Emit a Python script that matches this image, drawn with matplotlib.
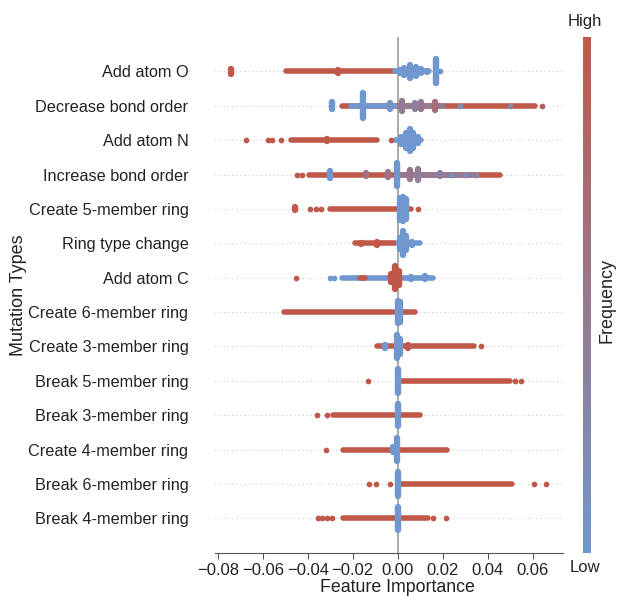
import numpy as np
import matplotlib
matplotlib.use("Agg")
import matplotlib.pyplot as plt
from matplotlib.colors import LinearSegmentedColormap, Normalize
from matplotlib.cm import ScalarMappable

plt.rcParams['font.family'] = ['Liberation Sans', 'DejaVu Sans']

# mutation types, top to bottom
features = [
    "Add atom O", "Decrease bond order", "Add atom N", "Increase bond order",
    "Create 5-member ring", "Ring type change", "Add atom C",
    "Create 6-member ring", "Create 3-member ring", "Break 5-member ring",
    "Break 3-member ring", "Create 4-member ring", "Break 6-member ring",
    "Break 4-member ring",
]

# dense runs of samples: (row, start, end, frequency 0=low 1=high)
bands = [
    (0, -0.0497, -0.001, 1.0), (0, -0.001, 0.0138, 0.0),
    (1, -0.025, 0.061, 1.0), (1, -0.021, -0.001, 0.0), (1, 0.001, 0.020, 0.45),
    (2, -0.0476, -0.0093, 1.0), (2, -0.001, 0.0105, 0.0),
    (3, -0.0395, 0.0453, 1.0), (3, 0.0, 0.035, 0.45),
    (4, -0.030, 0.006, 1.0),
    (5, -0.019, -0.001, 1.0), (5, 0.0, 0.0098, 0.0),
    (6, -0.025, 0.0156, 0.0), (6, -0.017, -0.0147, 1.0),
    (7, -0.0507, -0.001, 1.0), (7, 0.0025, 0.0076, 1.0),
    (8, -0.009, 0.034, 1.0),
    (9, 0.001, 0.050, 1.0),
    (10, -0.029, 0.0098, 1.0),
    (11, -0.0244, 0.0218, 1.0),
    (12, 0.001, 0.0506, 1.0),
    (13, -0.0244, 0.0133, 1.0),
]

# stacked piles of samples: (row, value, spread 0..1, frequency)
clumps = [
    (0, -0.0742, 0.18, 1.0), (0, -0.0267, 0.08, 1.0),
    (0, 0.001, 0.10, 0.0), (0, 0.003, 0.25, 0.0), (0, 0.0055, 0.47, 0.0),
    (0, 0.008, 0.30, 0.0), (0, 0.0105, 0.15, 0.0), (0, 0.013, 0.06, 0.0),
    (0, 0.0169, 0.87, 0.0),
    (1, -0.0293, 0.25, 0.0), (1, -0.0155, 0.90, 0.0), (1, -0.0035, 0.20, 0.05),
    (1, 0.002, 0.36, 0.45), (1, 0.0075, 0.20, 0.35), (1, 0.0105, 0.25, 0.5),
    (1, 0.0164, 0.30, 0.65),
    (2, -0.0315, 0.08, 1.0),
    (2, 0.0015, 0.25, 0.0), (2, 0.0035, 0.55, 0.0), (2, 0.0053, 0.80, 0.0),
    (2, 0.007, 0.55, 0.0), (2, 0.009, 0.20, 0.0),
    (3, -0.030, 0.25, 0.0), (3, -0.014, 0.10, 0.6), (3, -0.0045, 0.15, 0.5),
    (3, -0.0005, 0.85, 0.0), (3, 0.0053, 0.30, 0.5), (3, 0.0089, 0.40, 0.4),
    (3, 0.0187, 0.12, 0.3),
    (4, -0.0457, 0.11, 1.0),
    (4, 0.001, 0.80, 0.0), (4, 0.0025, 0.87, 0.0), (4, 0.0035, 0.70, 0.0),
    (5, -0.0165, 0.05, 1.0), (5, -0.009, 0.10, 1.0),
    (5, 0.001, 0.40, 0.0), (5, 0.0022, 0.87, 0.0), (5, 0.0035, 0.50, 0.0),
    (5, 0.0065, 0.10, 0.0),
    (6, -0.003, 0.30, 1.0), (6, -0.0013, 0.83, 1.0), (6, 0.0005, 0.50, 1.0),
    (6, 0.006, 0.08, 0.0), (6, 0.012, 0.10, 0.0),
    (7, 0.0002, 0.80, 0.0), (7, 0.001, 0.75, 0.0),
    (8, -0.0058, 0.10, 0.0), (8, -0.0005, 0.85, 0.0), (8, 0.001, 0.55, 0.0),
    (8, 0.0045, 0.10, 1.0),
    (9, 0.0, 0.85, 0.0),
    (10, 0.0, 0.80, 0.0),
    (11, -0.002, 0.20, 0.0), (11, -0.0005, 0.85, 0.0),
    (12, 0.0, 0.85, 0.0),
    (13, 0.0, 0.85, 0.0),
]

# isolated samples: (row, value, frequency)
dots = [
    (0, 0.0187, 0.0),
    (1, 0.0275, 0.1), (1, 0.050, 0.3), (1, 0.064, 0.85),
    (2, -0.0675, 1.0), (2, -0.0577, 1.0), (2, -0.056, 1.0), (2, -0.052, 1.0),
    (2, -0.003, 1.0),
    (3, -0.045, 1.0), (3, -0.0425, 1.0), (3, 0.0235, 0.2), (3, 0.030, 0.2),
    (3, 0.035, 0.3),
    (4, -0.039, 1.0), (4, -0.0365, 1.0), (4, -0.034, 1.0), (4, 0.009, 1.0),
    (6, -0.0453, 1.0), (6, -0.030, 0.0), (6, -0.0285, 0.0),
    (8, 0.037, 1.0),
    (9, -0.0133, 1.0), (9, 0.052, 1.0), (9, 0.055, 1.0),
    (10, -0.036, 1.0), (10, -0.0316, 1.0),
    (11, -0.032, 1.0),
    (12, -0.0129, 1.0), (12, -0.0098, 1.0), (12, -0.0036, 1.0),
    (12, 0.0604, 1.0), (12, 0.0657, 1.0),
    (13, -0.0356, 1.0), (13, -0.0336, 1.0), (13, -0.0316, 1.0), (13, -0.0293, 1.0),
    (13, 0.0156, 1.0), (13, 0.0213, 1.0),
]

cmap = LinearSegmentedColormap.from_list("freq", ["#7097cf", "#c0584a"])
n = len(features)
row_height = 0.4
text_col = "#222222"

fig = plt.figure(figsize=(6.21, 5.97), dpi=100)
ax = fig.add_axes([0.346, 0.074, 0.560, 0.864])

for i in range(n):
    ax.axhline(i, color="#888888", lw=0.5, dashes=(1, 5), zorder=-1)
ax.axvline(0, color="#aaaaaa", lw=1.4, zorder=-1)

for r, lo, hi, c in bands:
    y = n - 1 - r
    ax.plot([lo, hi], [y, y], color=cmap(c), lw=4.0, solid_capstyle="round", zorder=2)

for r, x, s, c in clumps:
    y = n - 1 - r
    h = s * row_height
    ax.plot([x, x], [y - h, y + h], color=cmap(c), lw=4.6, solid_capstyle="round", zorder=3)

for r, x, c in dots:
    ax.scatter(x, n - 1 - r, s=17, color=cmap(c), linewidths=0, zorder=4)

ax.set_xlim(-0.0813, 0.0733)
ax.set_ylim(-1, n)
ax.set_yticks(range(n))
ax.set_yticklabels(features[::-1], fontsize=11.7, color=text_col)
ax.set_xticks([-0.08, -0.06, -0.04, -0.02, 0.0, 0.02, 0.04, 0.06])
ax.set_xticklabels(["\u22120.08", "\u22120.06", "\u22120.04", "\u22120.02",
                    "0.00", "0.02", "0.04", "0.06"])
ax.tick_params(axis="y", length=0, pad=19)
ax.tick_params(axis="x", labelsize=12, length=4, width=0.8, color="#555555",
               labelcolor=text_col, pad=3)
for side in ["top", "right", "left"]:
    ax.spines[side].set_visible(False)
ax.spines["bottom"].set_color("#555555")
ax.set_xlabel("Feature Importance", fontsize=12.8, color=text_col)
ax.xaxis.set_label_coords(0.526, -0.051)
ax.set_ylabel("Mutation Types", fontsize=13, color=text_col)
ax.yaxis.set_label_coords(-0.54, 0.5)

# colour bar
cax = fig.add_axes([0.9388, 0.074, 0.0129, 0.864])
cb = fig.colorbar(ScalarMappable(norm=Normalize(0, 1), cmap=cmap), cax=cax)
cb.outline.set_visible(False)
cb.set_ticks([])
fig.text(0.942, 0.964, "High", ha="center", va="center", fontsize=12, color=text_col)
fig.text(0.942, 0.050, "Low", ha="center", va="center", fontsize=12, color=text_col)
fig.text(0.977, 0.497, "Frequency", ha="center", va="center", rotation=90,
         fontsize=13, color=text_col)

fig.savefig("out.png", dpi=100)
